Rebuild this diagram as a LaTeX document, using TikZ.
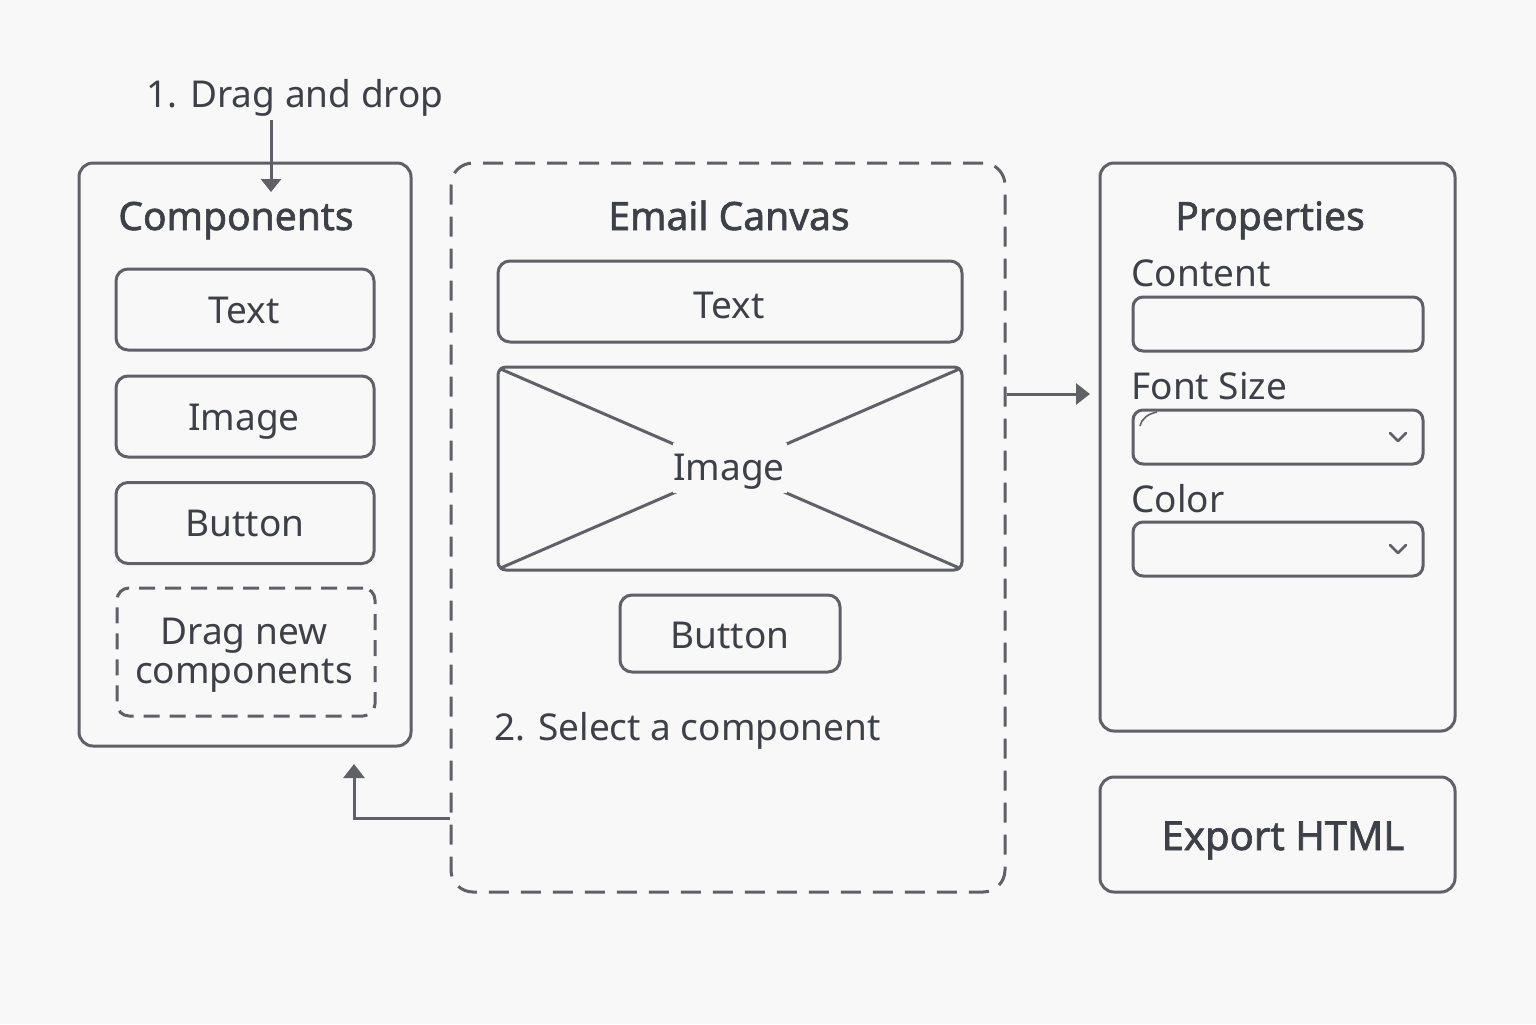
\documentclass[tikz,border=0pt]{standalone}
\usepackage{fontspec}
\setmainfont{Noto Sans}
\newfontfamily\titlefont{Noto Sans}[FakeBold=1.6]
\usetikzlibrary{arrows.meta}
\definecolor{ln}{HTML}{5F6167}
\definecolor{tx}{HTML}{3E4047}
\definecolor{bg}{HTML}{F8F8F8}
\tikzset{
  box/.style={draw=ln, line width=1.5pt, rounded corners=6pt, inner sep=0pt, text=tx},
  panel/.style={box, rounded corners=7pt},
  dbox/.style={box, dash pattern=on 10pt off 6pt},
  lbl/.style={font=\fontsize{18.5}{22}\selectfont, text=tx, inner sep=0pt, anchor=base},
  ttl/.style={font=\titlefont\fontsize{19.5}{22}\selectfont, text=tx, inner sep=0pt, anchor=base},
  arr/.style={draw=ln, line width=1.5pt, -{Triangle[length=7pt,width=10.5pt]}},
  chev/.style={draw=ln, line width=1.3pt, line cap=round, line join=round},
}
\begin{document}
\begin{tikzpicture}[x=0.5pt,y=-0.5pt]
\fill[bg] (0,0) rectangle (1536,1024);
\useasboundingbox (0,0) rectangle (1536,1024);

% Components panel
\node[panel, minimum width=166pt, minimum height=291.5pt] (comp) at (245,454.5) {};
\node[ttl] (compt) at (236,230) {Components};
\node[box, minimum width=129pt, minimum height=40.5pt] (ctext) at (245,309.5) {};
\node[lbl] at (244,323) {Text};
\node[box, minimum width=129pt, minimum height=40.5pt] (cimage) at (245,416.5) {};
\node[lbl] at (244,430) {Image};
\node[box, minimum width=129pt, minimum height=40.5pt] (cbutton) at (245,523) {};
\node[lbl] at (245,536) {Button};
\node[box, dash pattern=on 8pt off 5pt, minimum width=129pt, minimum height=64pt] (cnew) at (246,652) {};
\node[lbl] at (244,644) {Drag new};
\node[lbl] at (244,683) {components};

% Drag label and arrow
\node[lbl] (dd) at (295,107) {1. Drag and drop};
\coordinate (a1s) at (271,120);
\coordinate (a1e) at (271,192);
\draw[arr, -{Triangle[length=6.5pt,width=10pt]}] (a1s) -- (a1e);

% Email canvas
\node[dbox, rounded corners=11pt, minimum width=277pt, minimum height=364.5pt] (canvas) at (728,527.5) {};
\node[ttl] at (729,230) {Email Canvas};
\node[box, minimum width=232pt, minimum height=40.5pt] (etext) at (730,301.5) {};
\node[lbl] at (729,318) {Text};
\node[box, rounded corners=4pt, minimum width=232pt, minimum height=101.5pt] (eimg) at (730,468.5) {};
\draw[ln, line width=1.5pt] ([shift={(3,3)}]eimg.north west) -- ([shift={(-3,-3)}]eimg.south east);
\draw[ln, line width=1.5pt] ([shift={(-3,3)}]eimg.north east) -- ([shift={(3,-3)}]eimg.south west);
\node[fill=bg, inner sep=0pt, minimum width=57pt, minimum height=25pt] (eimgmask) at (730,468) {};
\node[lbl] (eimgl) at (729,480) {Image};
\node[box, minimum width=110pt, minimum height=38.5pt] (ebtn) at (730,633.5) {};
\node[lbl] at (730,648) {Button};
\node[lbl, anchor=base west] (sel) at (494,740) {2. Select a component};

% Properties panel
\node[panel, minimum width=177.5pt, minimum height=284pt] (props) at (1277.5,447) {};
\node[ttl] at (1270,230) {Properties};
\node[lbl, anchor=base west] at (1131,286) {Content};
\node[box, rounded corners=5pt, minimum width=145pt, minimum height=27pt] (f1) at (1278,324) {};
\node[lbl, anchor=base west] at (1131,399) {Font Size};
\node[box, rounded corners=5pt, minimum width=145pt, minimum height=27pt] (f2) at (1278,437) {};
\node[lbl, anchor=base west] at (1131,512) {Color};
\node[box, rounded corners=5pt, minimum width=145pt, minimum height=27pt] (f3) at (1278,549) {};
\draw[chev] (1390,433) -- (1398,441) -- (1406,433);
\draw[chev] (1390,545) -- (1398,553) -- (1406,545);
\draw[ln, line width=0.8pt] (1140,426) .. controls (1142,418) and (1148,414) .. (1157,412);

% Export
\node[panel, minimum width=177.5pt, minimum height=57.5pt] (export) at (1277.5,834.5) {};
\node[ttl, font=\titlefont\fontsize{20}{22}\selectfont] at (1283,850) {Export HTML};

% Connectors
\coordinate (a2e) at (1090,394);
\draw[arr] (canvas.east |- a2e) -- (a2e);
\coordinate (a3e) at (354,764);
\draw[arr] (canvas.west |- 0,818) -| (a3e);
\end{tikzpicture}
\end{document}
